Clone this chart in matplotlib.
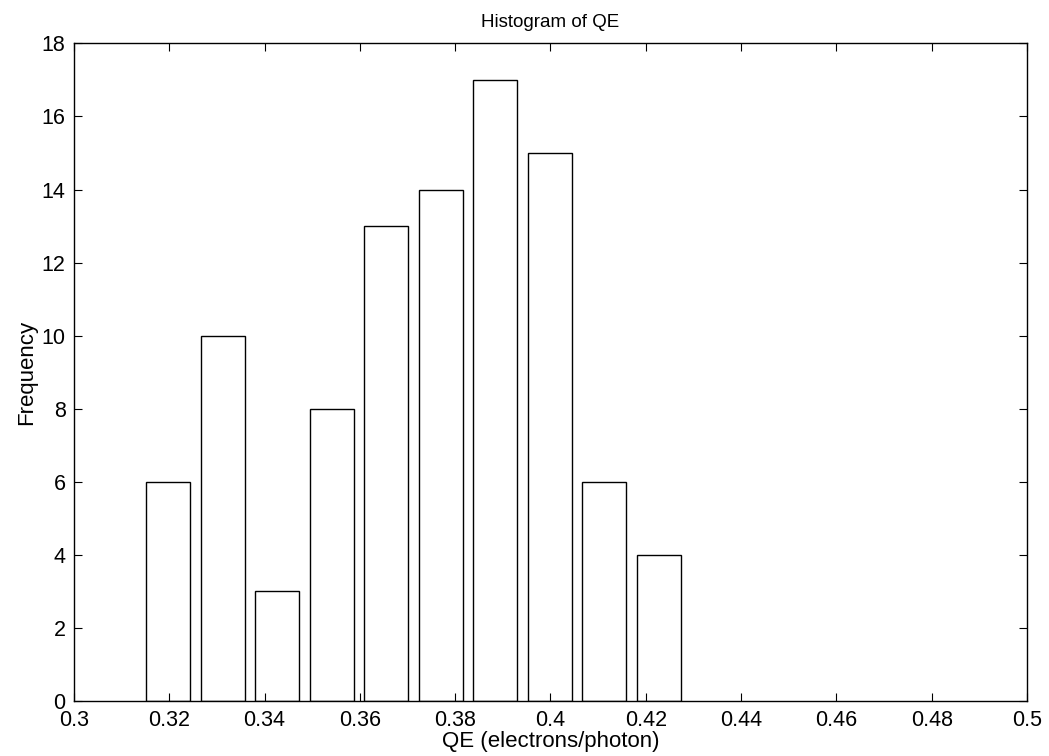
import numpy as np
import matplotlib
matplotlib.use('Agg')
import matplotlib.pyplot as plt

# bin centres and counts
bin_centers = [0.3197, 0.3312, 0.3426, 0.3541, 0.3655, 0.3770, 0.3884, 0.3999, 0.4113, 0.4228]
counts = [6, 10, 3, 8, 13, 14, 17, 15, 6, 4]
xticks = [0.3, 0.32, 0.34, 0.36, 0.38, 0.4, 0.42, 0.44, 0.46, 0.48, 0.5]
xticklabels = ['0.3', '0.32', '0.34', '0.36', '0.38', '0.4', '0.42', '0.44', '0.46', '0.48', '0.5']
yticks = [0, 2, 4, 6, 8, 10, 12, 14, 16, 18]

plt.rcParams['font.family'] = ['Liberation Sans', 'DejaVu Sans']

fig = plt.figure(figsize=(10.49, 7.56), dpi=100)
ax = fig.add_axes([0.0705, 0.0731, 0.9085, 0.8694])

#bars, 0.8 of the bin spacing like matlab's hist
spacing = bin_centers[1] - bin_centers[0]
ax.bar(bin_centers, counts, width=0.8 * spacing, color='white',
       edgecolor='black', linewidth=1.0)

ax.set_xlim(0.3, 0.5)
ax.set_ylim(0, 18)
ax.set_xticks(xticks)
ax.set_xticklabels(xticklabels)
ax.set_yticks(yticks)
ax.tick_params(direction='in', length=6, width=0.8, top=True, right=True,
               labelsize=15.5)
ax.tick_params(axis='x', pad=7)
ax.tick_params(axis='y', pad=6)
for sp in ax.spines.values():
    sp.set_linewidth(1.0)

ax.set_xlabel('QE (electrons/photon)', fontsize=16, labelpad=0)
ax.set_ylabel('Frequency', fontsize=16, labelpad=3)
ax.set_title('Histogram of QE', fontsize=13.5, pad=12)

plt.savefig('out.png', dpi=100)
